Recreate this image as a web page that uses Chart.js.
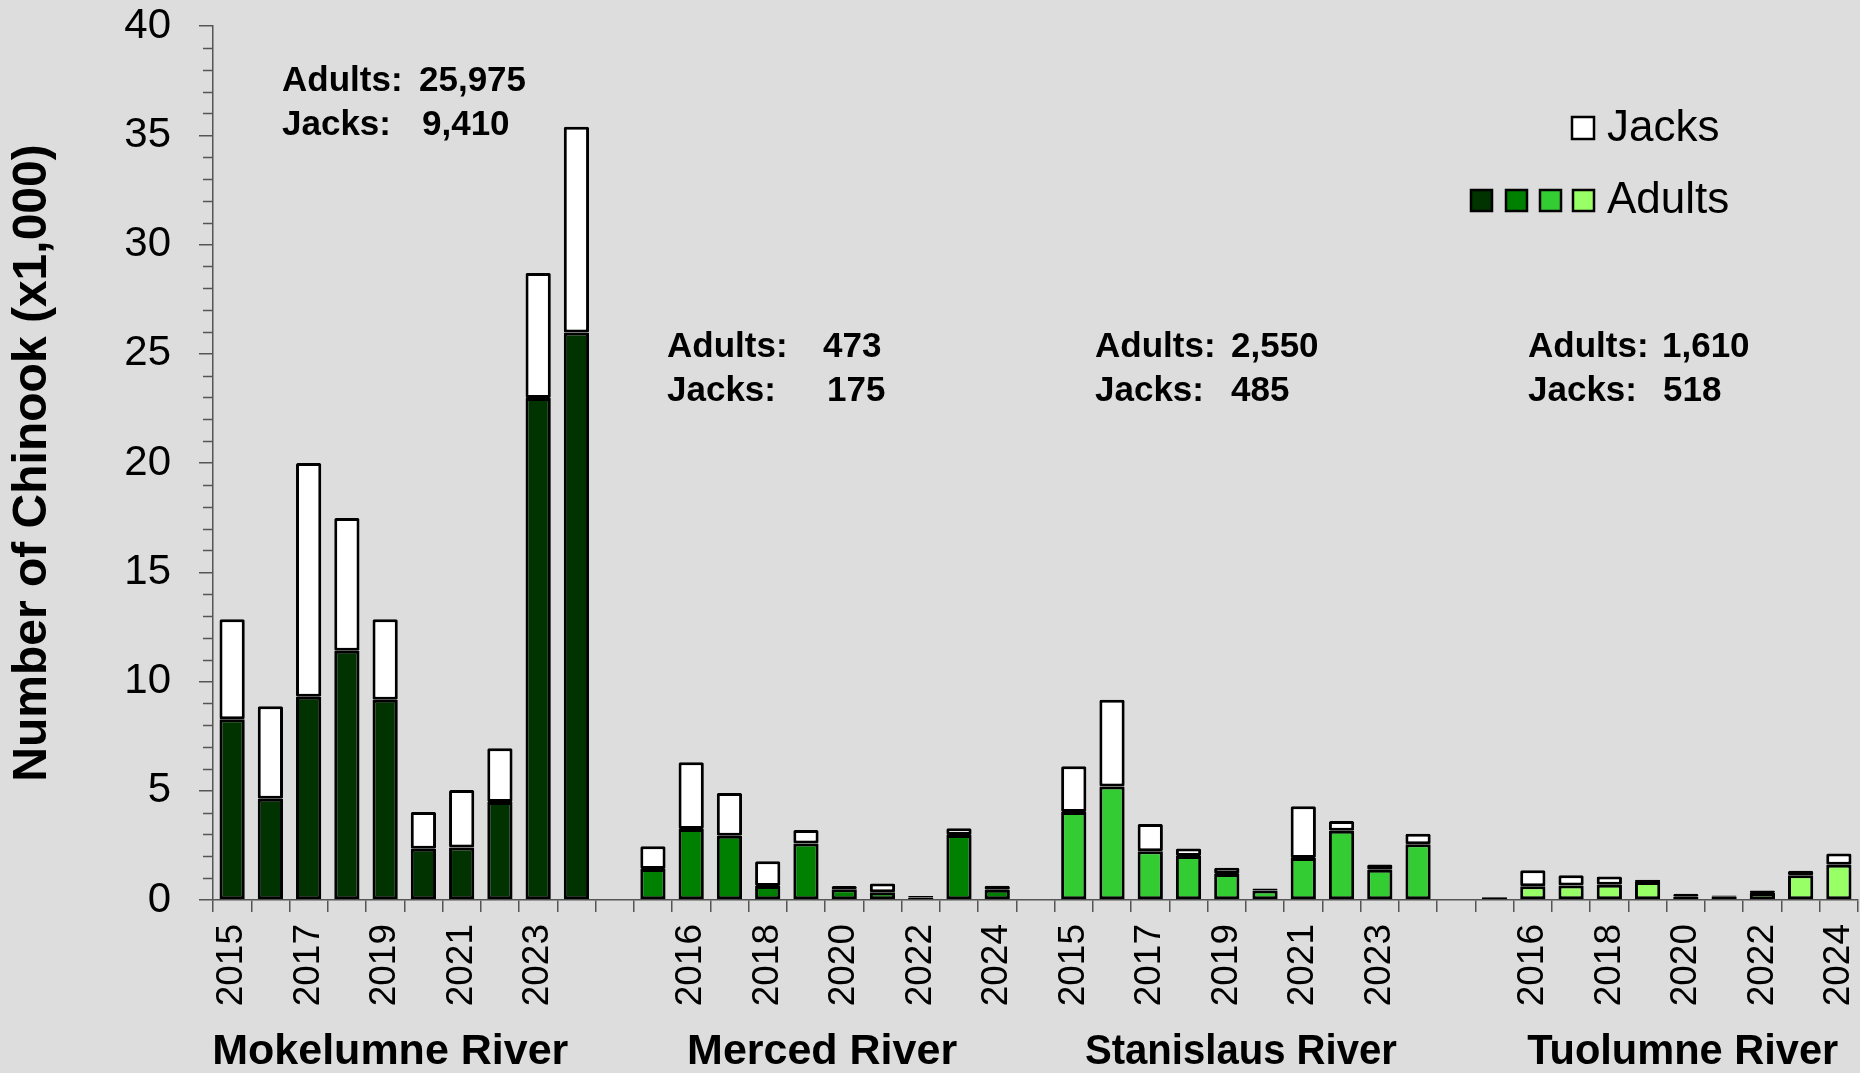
<!DOCTYPE html>
<html>
<head>
<meta charset="utf-8">
<script src="https://cdn.jsdelivr.net/npm/chart.js@4.4.1/dist/chart.umd.min.js"></script>
<style>
  html, body { margin: 0; padding: 0; background: #dddddd; }
  #wrap { width: 1860px; height: 1073px; }
</style>
</head>
<body>
<div id="wrap"><canvas id="chinookChart"></canvas></div>
<script>
// escapement by river, thousands of fish
const years = ['2015', '2016', '2017', '2018', '2019', '2020', '2021', '2022', '2023', '2024'];
const rivers = ['Mokelumne River', 'Merced River', 'Stanislaus River', 'Tuolumne River'];
const adultColors = ['#003300', '#008000', '#33cc33', '#99ff66'];

const mokelumneAdults = [8.27, 4.63, 9.30, 11.41, 9.16, 2.35, 2.40, 4.48, 22.97, 25.975];
const mokelumneJacks  = [4.58, 4.24, 10.70, 6.07, 3.69, 1.68, 2.63, 2.47, 5.73, 9.41];
const mercedAdults    = [1.42, 3.25, 2.94, 0.64, 2.59, 0.49, 0.35, 0.12, 2.97, 0.473];
const mercedJacks     = [1.04, 3.05, 1.96, 1.13, 0.61, 0.15, 0.40, 0.06, 0.31, 0.175];
const stanislausAdults = [4.03, 5.20, 2.23, 2.01, 1.19, 0.43, 1.92, 3.17, 1.39, 2.55];
const stanislausJacks  = [2.09, 3.97, 1.25, 0.35, 0.29, 0.10, 2.37, 0.44, 0.23, 0.485];
const tuolumneAdults  = [0.10, 0.63, 0.66, 0.70, 0.82, 0.15, 0.15, 0.32, 1.13, 1.61];
const tuolumneJacks   = [0.04, 0.73, 0.47, 0.38, 0.11, 0.14, 0.06, 0.12, 0.21, 0.518];

const yTicks = [0, 5, 10, 15, 20, 25, 30, 35, 40];

const adultsByRiver = [mokelumneAdults, mercedAdults, stanislausAdults, tuolumneAdults];
const jacksByRiver = [mokelumneJacks, mercedJacks, stanislausJacks, tuolumneJacks];

// flatten into one category axis with an empty slot between rivers
const labels = [], adults = [], jacks = [], barColors = [], groupRange = [];
rivers.forEach((r, ri) => {
  if (ri > 0) {
    labels.push(''); adults.push(null); jacks.push(null); barColors.push('#000');
  }
  const start = labels.length;
  years.forEach((y, yi) => {
    labels.push(y);
    adults.push(adultsByRiver[ri][yi]);
    jacks.push(jacksByRiver[ri][yi]);
    barColors.push(adultColors[ri]);
  });
  groupRange.push([start, labels.length - 1]);
});

const fmt = v => Math.round(v * 1000).toLocaleString('en-US');

// text block positions for the 2024 counts
const notes = [
  { x: 282, y: 81, vx: [137, 140] },
  { x: 667, y: 347, vx: [156, 160] },
  { x: 1095, y: 347, vx: [136, 136] },
  { x: 1528, y: 347, vx: [134, 135] }
];

const extras = {
  id: 'extras',
  afterDraw(chart) {
    const ctx = chart.ctx;
    const xs = chart.scales.x, ys = chart.scales.y;
    ctx.save();

    // minor y ticks
    ctx.strokeStyle = '#555';
    ctx.lineWidth = 1.5;
    for (let v = 0; v <= 40; v++) {
      if (v % 5 === 0) continue;
      const py = Math.round(ys.getPixelForValue(v)) + 0.5;
      ctx.beginPath();
      ctx.moveTo(xs.left - 10, py);
      ctx.lineTo(xs.left, py);
      ctx.stroke();
    }

    // 2024 counts
    ctx.fillStyle = '#000';
    ctx.font = 'bold 35px "Liberation Sans", Arial, sans-serif';
    ctx.textBaseline = 'middle';
    ctx.textAlign = 'left';
    notes.forEach((n, ri) => {
      ctx.fillText('Adults:', n.x, n.y);
      ctx.fillText(fmt(adultsByRiver[ri][9]), n.x + n.vx[0], n.y);
      ctx.fillText('Jacks:', n.x, n.y + 44);
      ctx.fillText(fmt(jacksByRiver[ri][9]), n.x + n.vx[1], n.y + 44);
    });

    // legend
    ctx.lineWidth = 2.5;
    ctx.strokeStyle = '#000';
    ctx.fillStyle = '#fff';
    ctx.fillRect(1572, 117, 22, 22);
    ctx.strokeRect(1572, 117, 22, 22);
    [1471, 1506, 1540, 1573].forEach((lx, i) => {
      ctx.fillStyle = adultColors[i];
      ctx.fillRect(lx, 190, 21, 21);
      ctx.strokeRect(lx, 190, 21, 21);
    });
    ctx.fillStyle = '#000';
    ctx.font = '44px "Liberation Sans", Arial, sans-serif';
    ctx.fillText('Jacks', 1607, 129);
    ctx.fillText('Adults', 1607, 201);

    // river names under the axis
    ctx.font = 'bold 43px "Liberation Sans", Arial, sans-serif';
    ctx.textAlign = 'center';
    const shift = [-14, -3, -5, 16];
    const maxW = [358, 273, 312, 311];
    groupRange.forEach((g, ri) => {
      const cx = (xs.getPixelForValue(g[0]) + xs.getPixelForValue(g[1])) / 2 + shift[ri];
      ctx.fillText(rivers[ri], cx, 1052, maxW[ri]);
    });
    ctx.restore();
  }
};

new Chart(document.getElementById('chinookChart'), {
  type: 'bar',
  data: {
    labels: labels,
    datasets: [
      {
        label: 'Adults',
        data: adults,
        backgroundColor: barColors,
        borderColor: '#000',
        borderWidth: 3,
        borderSkipped: false,
        borderRadius: 1.5
      },
      {
        label: 'Jacks',
        data: jacks,
        backgroundColor: '#ffffff',
        borderColor: '#000',
        borderWidth: 3,
        borderSkipped: false,
        borderRadius: 1.5
      }
    ]
  },
  options: {
    responsive: true,
    maintainAspectRatio: false,
    animation: false,
    devicePixelRatio: 1,
    layout: { padding: { top: 0, right: 2, left: 0, bottom: 0 } },
    datasets: { bar: { barPercentage: 0.66, categoryPercentage: 1 } },
    scales: {
      x: {
        stacked: true,
        afterFit: s => { s.height = 173; s.paddingRight = 0; s.paddingLeft = 0; },
        grid: { display: true, drawOnChartArea: false, offset: true, tickLength: 12, color: '#555', lineWidth: 1.5 },
        border: { color: '#555', width: 1.5 },
        ticks: {
          autoSkip: false, maxRotation: 90, minRotation: 90, padding: 12,
          color: '#000',
          font: { family: '"Liberation Sans", Arial, sans-serif', size: 37 },
          callback: (v, i) => (i % 2 === 0 ? labels[i] : '')
        }
      },
      y: {
        stacked: true,
        min: 0,
        max: 40,
        afterFit: s => { s.width = 213; s.paddingTop = 26; s.paddingBottom = 0; },
        afterBuildTicks: s => { s.ticks = yTicks.map(v => ({ value: v })); },
        grid: { display: true, drawOnChartArea: false, tickLength: 14, color: '#555', lineWidth: 1.5 },
        border: { color: '#555', width: 1.5 },
        ticks: {
          padding: 28,
          color: '#000',
          font: { family: '"Liberation Sans", Arial, sans-serif', size: 42 }
        },
        title: {
          display: true,
          text: 'Number of Chinook (x1,000)',
          color: '#000',
          padding: { top: 4, bottom: 0 },
          font: { family: '"Liberation Sans", Arial, sans-serif', size: 48, weight: 'bold' }
        }
      }
    },
    plugins: {
      legend: { display: false },
      tooltip: { enabled: false }
    }
  },
  plugins: [extras]
});
</script>
</body>
</html>
